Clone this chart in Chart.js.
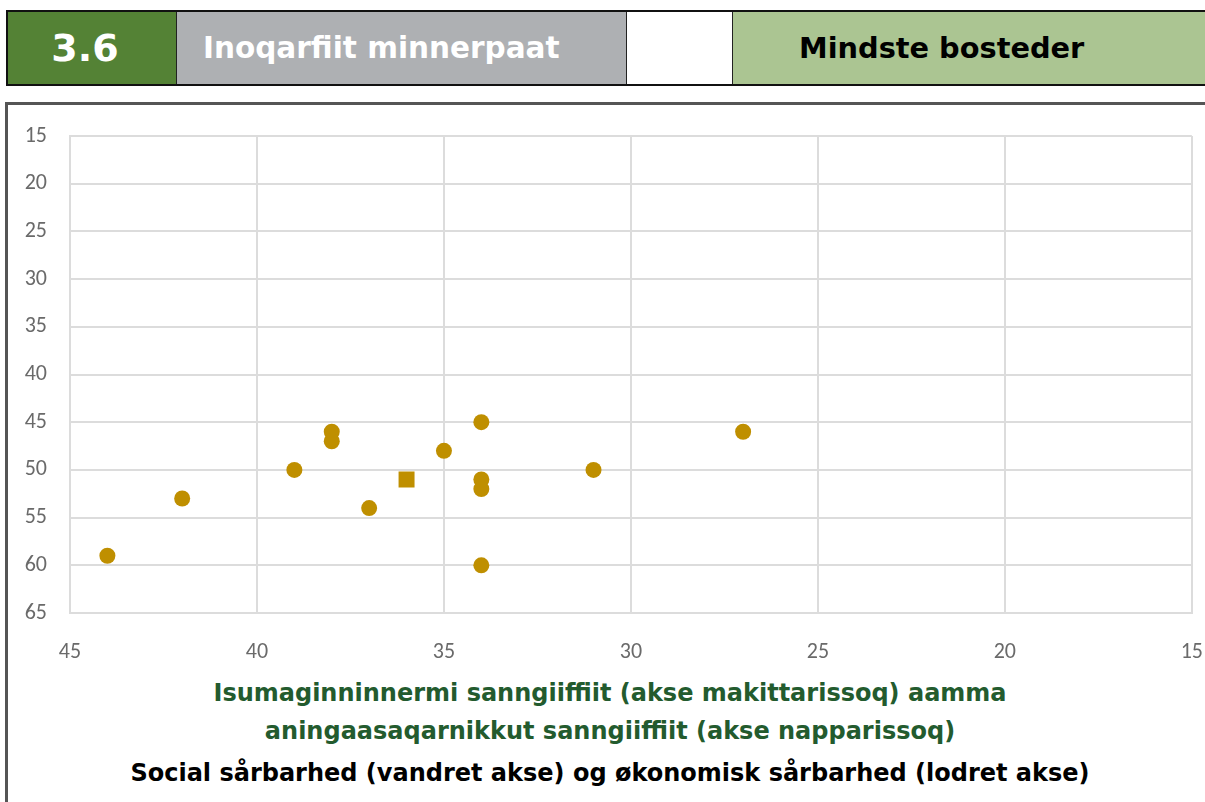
<!DOCTYPE html>
<html>
<head>
<meta charset="utf-8">
<script src="https://cdn.jsdelivr.net/npm/chart.js@4.4.1/dist/chart.umd.min.js"></script>
<style>
  html, body { margin:0; padding:0; background:#fff; width:1205px; height:802px; overflow:hidden; }
  body { position:relative; font-family:"DejaVu Sans", Verdana, sans-serif; }
  .hdr { position:absolute; top:10px; left:6px; width:1220px; height:72px; border:2px solid #111; border-right:none; box-sizing:content-box; }
  .cell { position:absolute; top:0; height:72px; line-height:72px; font-weight:bold; white-space:nowrap; }
  .c1 { left:0; width:168px; background:#548235; color:#fff; font-size:38px; text-align:center; border-right:1px solid #222; }
  .c2 { left:169px; width:449px; background:#AEB0B3; color:#fff; font-size:29.5px; border-right:1px solid #222; }
  .c3 { left:619px; width:105px; background:#fff; border-right:1px solid #222; }
  .c4 { left:725px; width:500px; background:#ABC592; color:#000; font-size:28.8px; }
  .box { position:absolute; top:102px; left:5px; width:1220px; height:720px; border-top:3px solid #555; border-left:3px solid #555; }
  .cap { position:absolute; left:0; width:1220px; text-align:center; font-weight:bold; white-space:nowrap; font-size:24px; line-height:28px; }
  #chart { position:absolute; left:0; top:0; }
</style>
</head>
<body>
<div class="hdr">
  <div class="cell c1"><span style="padding-right:14px">3.6</span></div>
  <div class="cell c2"><span style="padding-left:26px">Inoqarfiit minnerpaat</span></div>
  <div class="cell c3"></div>
  <div class="cell c4"><span style="padding-left:66px">Mindste bosteder</span></div>
</div>
<div class="box"></div>
<div class="cap" style="top:679px;color:#235B2E;">Isumaginninnermi sanngiiffiit (akse makittarissoq) aamma</div>
<div class="cap" style="top:717px;color:#235B2E;">aningaasaqarnikkut sanngiiffiit (akse napparissoq)</div>
<div class="cap" style="top:759px;color:#000;">Social sårbarhed (vandret akse) og økonomisk sårbarhed (lodret akse)</div>
<canvas id="chart" width="1229" height="680" style="width:1229px;height:680px;"></canvas>
<script>
// Social vulnerability (horizontal axis) for each settlement
const socialX = [44, 42, 39, 38, 38, 37, 35, 34, 34, 34, 34, 31, 27];
// Economic vulnerability (vertical axis) for each settlement
const economicY = [59, 53, 50, 46, 47, 54, 48, 45, 51, 52, 60, 50, 46];
// Highlighted (square) point
const avgX = [36];
const avgY = [51];
// Axis ticks
const xTickMin = 15, xTickMax = 45, xTickStep = 5;
const yTickMin = 15, yTickMax = 65, yTickStep = 5;

const pointColor = '#BF8F00';
const gridColor = '#DCDCDC';
const tickFont = { family: 'Carlito, Lato, "Liberation Sans", sans-serif', size: 22 };

new Chart(document.getElementById('chart'), {
  type: 'scatter',
  data: {
    datasets: [
      {
        label: 'Bosteder',
        data: socialX.map((x, i) => ({ x: x, y: economicY[i] })),
        pointStyle: 'circle',
        pointRadius: 8,
        pointHoverRadius: 8,
        backgroundColor: pointColor,
        borderColor: pointColor,
        borderWidth: 0
      },
      {
        label: 'Gennemsnit',
        data: avgX.map((x, i) => ({ x: x, y: avgY[i] })),
        pointStyle: 'rect',
        pointRadius: 11.3,
        pointHoverRadius: 11.3,
        backgroundColor: pointColor,
        borderColor: pointColor,
        borderWidth: 0
      }
    ]
  },
  options: {
    responsive: false,
    animation: false,
    events: [],
    layout: { padding: { top: 136, right: 13, left: 0, bottom: 0 } },
    plugins: { legend: { display: false }, tooltip: { enabled: false } },
    scales: {
      x: {
        type: 'linear',
        reverse: true,
        min: xTickMin, max: xTickMax,
        ticks: { stepSize: xTickStep, color: '#6a6a6a', font: tickFont, padding: 26 },
        grid: { color: gridColor, lineWidth: 2, drawTicks: false },
        border: { color: gridColor, width: 2 },
        afterFit: s => { s.height = 67; }
      },
      y: {
        type: 'linear',
        reverse: true,
        min: yTickMin, max: yTickMax,
        ticks: { stepSize: yTickStep, color: '#6a6a6a', font: tickFont, padding: 23 },
        grid: { color: gridColor, lineWidth: 2, drawTicks: false },
        border: { color: gridColor, width: 2 },
        afterFit: s => { s.width = 70; }
      }
    }
  }
});
</script>
</body>
</html>
